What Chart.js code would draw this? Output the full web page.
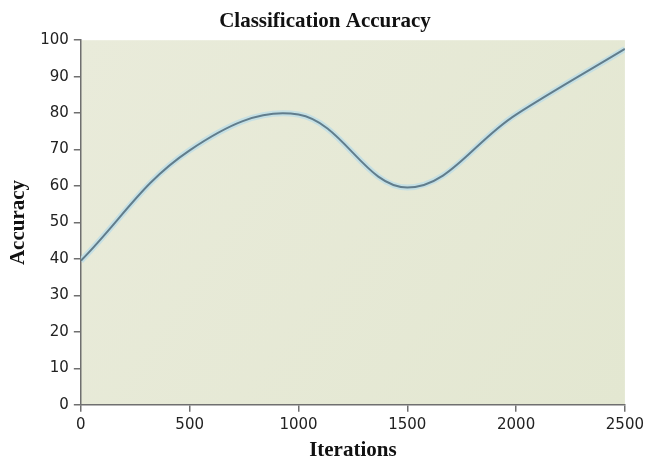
<!DOCTYPE html>
<html>
<head>
<meta charset="utf-8">
<script src="https://cdn.jsdelivr.net/npm/chart.js@4"></script>
<style>
  html, body { margin: 0; padding: 0; background: #fff; }
  #wrap { width: 648px; height: 463px; }
</style>
</head>
<body>
<div id="wrap"><canvas id="chart"></canvas></div>
<script>
// data
const iterations = [0, 500, 1000, 1500, 2000, 2500];
const accuracy = [39.5, 69.8, 79.6, 59.6, 79.6, 97.6];
const xTicks = [0, 500, 1000, 1500, 2000, 2500];
const yTicks = [0, 10, 20, 30, 40, 50, 60, 70, 80, 90, 100];

const points = iterations.map((x, i) => ({ x, y: accuracy[i] }));

// plot area fill
const plotBg = {
    id: 'plotBg',
    beforeDraw(chart) {
        const { ctx, chartArea: a } = chart;
        const g = ctx.createLinearGradient(a.left, a.top, a.right, a.bottom);
        g.addColorStop(0, '#e9ebda');
        g.addColorStop(1, '#e3e7d1');
        ctx.save();
        ctx.fillStyle = g;
        ctx.fillRect(a.left, a.top, a.right - a.left, a.bottom - a.top);
        ctx.restore();
    }
};

const tickFont = { family: 'DejaVu Sans', size: 15 };
const titleFont = { family: 'Liberation Serif', size: 21, weight: 'bold' };

new Chart(document.getElementById('chart'), {
    type: 'line',
    data: {
        datasets: [
            {
                // main line, on top
                data: points,
                borderColor: '#617d8c',
                borderWidth: 2,
                tension: 0.38,
                pointRadius: 0,
                fill: false,
                order: 0
            },
            {
                // soft glow under the line
                data: points,
                borderColor: 'rgba(185,220,232,0.75)',
                borderWidth: 6,
                tension: 0.38,
                pointRadius: 0,
                fill: false,
                order: 1
            }
        ]
    },
    plugins: [plotBg],
    options: {
        responsive: true,
        maintainAspectRatio: false,
        animation: false,
        layout: { padding: { top: 2, right: 0, left: 2, bottom: 0 } },
        plugins: {
            legend: { display: false },
            tooltip: { enabled: false },
            title: {
                display: true,
                text: 'Classification Accuracy',
                color: '#111',
                font: { family: 'Liberation Serif', size: 21, weight: 'bold' },
                padding: { top: 7, bottom: 6 }
            }
        },
        scales: {
            x: {
                type: 'linear',
                min: 0,
                max: 2500,
                afterBuildTicks: s => { s.ticks = xTicks.map(v => ({ value: v })); },
                border: { display: true, color: '#6f6f6f', width: 1.5 },
                grid: { display: true, drawOnChartArea: false, drawTicks: true, tickLength: 7, color: '#6f6f6f', lineWidth: 1.5 },
                ticks: { color: '#222', font: tickFont, padding: 4, callback: v => String(v) },
                title: { display: true, text: 'Iterations', color: '#111', font: titleFont, padding: { top: 0, bottom: 0 } }
            },
            y: {
                min: 0,
                max: 100,
                afterBuildTicks: s => { s.ticks = yTicks.map(v => ({ value: v })); },
                border: { display: true, color: '#6f6f6f', width: 1.5 },
                grid: { display: true, drawOnChartArea: false, drawTicks: true, tickLength: 7, color: '#6f6f6f', lineWidth: 1.5 },
                ticks: { color: '#222', font: tickFont, padding: 5, callback: v => String(v) },
                title: { display: true, text: 'Accuracy', color: '#111', font: titleFont, padding: { bottom: 4 } }
            }
        }
    }
});
</script>
</body>
</html>
